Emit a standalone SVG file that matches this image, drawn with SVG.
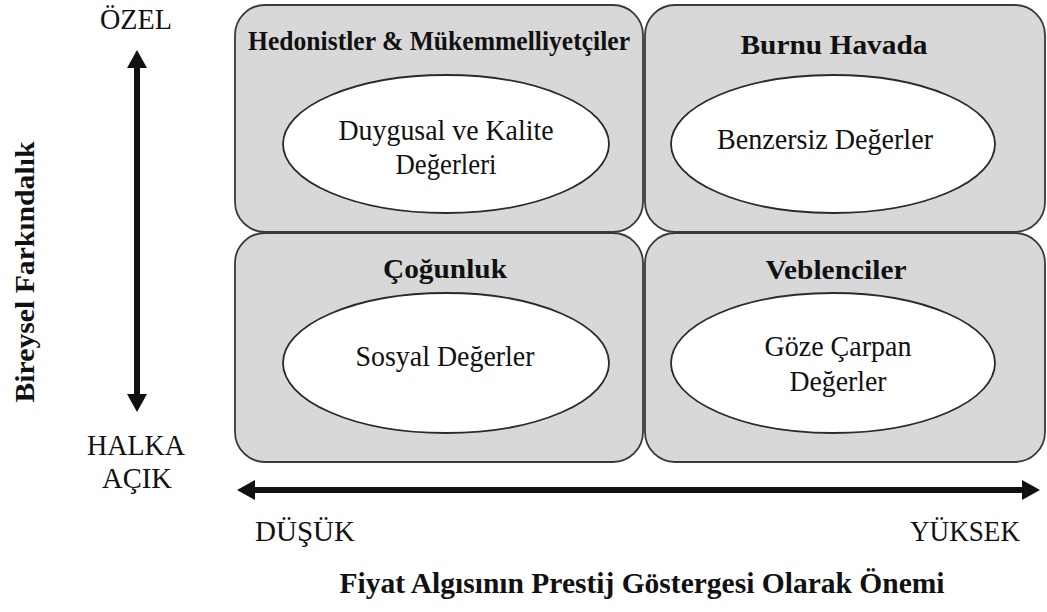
<svg xmlns="http://www.w3.org/2000/svg" width="1047" height="612" viewBox="0 0 1047 612">
<style>
.box{fill:#d8d8d8;stroke:#3a3a3a;stroke-width:1.8}
.ell{fill:#ffffff;stroke:#2a2a2a;stroke-width:1.8}
.t{font-family:"Liberation Serif","Times New Roman",serif;font-size:29px;fill:#111;text-anchor:middle}
.b{font-family:"Liberation Serif","Times New Roman",serif;font-size:28px;font-weight:bold;fill:#111;text-anchor:middle}
.shaft{stroke:#111;stroke-width:6;fill:none}
</style>
<defs>
<marker id="ah" viewBox="0 0 18 20" refX="0" refY="10" markerWidth="18" markerHeight="20" markerUnits="userSpaceOnUse" orient="auto-start-reverse">
<path d="M0,0 L18,10 L0,20 z" fill="#111"/>
</marker>
</defs>
<rect width="1047" height="612" fill="#ffffff"/>
<g id="node-hedonistler">
<rect class="box" x="235" y="5" width="408" height="227" rx="30" ry="30"/>
<text class="b" x="439" y="50" textLength="382" lengthAdjust="spacingAndGlyphs">Hedonistler &amp; Mükemmelliyetçiler</text>
<ellipse class="ell" cx="446" cy="144" rx="163" ry="69"/>
<text class="t" x="446" y="140" textLength="215" lengthAdjust="spacingAndGlyphs">Duygusal ve Kalite</text>
<text class="t" x="446" y="174" textLength="101" lengthAdjust="spacingAndGlyphs">Değerleri</text>
</g>
<g id="node-burnu-havada">
<rect class="box" x="645" y="5" width="400" height="227" rx="30" ry="30"/>
<text class="b" x="834" y="54" textLength="187" lengthAdjust="spacingAndGlyphs">Burnu Havada</text>
<ellipse class="ell" cx="833" cy="144" rx="162" ry="69"/>
<text class="t" x="825" y="149" textLength="216" lengthAdjust="spacingAndGlyphs">Benzersiz Değerler</text>
</g>
<g id="node-cogunluk">
<rect class="box" x="235" y="233" width="408" height="229" rx="30" ry="30"/>
<text class="b" x="445" y="278" textLength="124" lengthAdjust="spacingAndGlyphs">Çoğunluk</text>
<ellipse class="ell" cx="446" cy="363" rx="163" ry="70"/>
<text class="t" x="445" y="366" textLength="179" lengthAdjust="spacingAndGlyphs">Sosyal Değerler</text>
</g>
<g id="node-veblenciler">
<rect class="box" x="645" y="233" width="400" height="229" rx="30" ry="30"/>
<text class="b" x="836" y="279" textLength="141" lengthAdjust="spacingAndGlyphs">Veblenciler</text>
<ellipse class="ell" cx="833" cy="363" rx="162" ry="70"/>
<text class="t" x="838" y="356" textLength="147" lengthAdjust="spacingAndGlyphs">Göze Çarpan</text>
<text class="t" x="838" y="391" textLength="97" lengthAdjust="spacingAndGlyphs">Değerler</text>
</g>
<g id="connectors">
<line class="shaft" x1="137" y1="68" x2="137" y2="394" marker-start="url(#ah)" marker-end="url(#ah)"/>
<line class="shaft" x1="255" y1="490" x2="1022" y2="490" marker-start="url(#ah)" marker-end="url(#ah)"/>
</g>
<g id="axis-labels">
<text class="t" x="136" y="29" textLength="72" lengthAdjust="spacingAndGlyphs">ÖZEL</text>
<text class="t" x="136" y="455" textLength="98" lengthAdjust="spacingAndGlyphs">HALKA</text>
<text class="t" x="137" y="488" textLength="70" lengthAdjust="spacingAndGlyphs">AÇIK</text>
<text class="t" x="305" y="541" textLength="100" lengthAdjust="spacingAndGlyphs">DÜŞÜK</text>
<text class="t" x="965" y="541" textLength="110" lengthAdjust="spacingAndGlyphs">YÜKSEK</text>
<text class="b" x="34" y="272" transform="rotate(-90 34 272)" textLength="261" lengthAdjust="spacingAndGlyphs">Bireysel Farkındalık</text>
<text class="b" x="642" y="593" style="font-size:30px" textLength="605" lengthAdjust="spacingAndGlyphs">Fiyat Algısının Prestij Göstergesi Olarak Önemi</text>
</g>
</svg>
